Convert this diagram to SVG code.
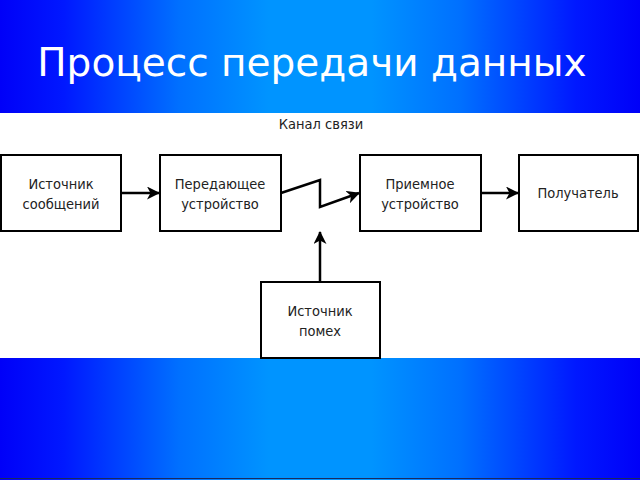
<svg xmlns="http://www.w3.org/2000/svg" width="640" height="480" viewBox="0 0 640 480">
<defs>
<linearGradient id="bg" x1="0" y1="0" x2="1" y2="0">
<stop offset="0" stop-color="#0000f8"/>
<stop offset="0.1" stop-color="#0018ff"/>
<stop offset="0.28" stop-color="#0070ff"/>
<stop offset="0.42" stop-color="#0094ff"/>
<stop offset="0.58" stop-color="#0094ff"/>
<stop offset="0.72" stop-color="#0070ff"/>
<stop offset="0.9" stop-color="#0018ff"/>
<stop offset="1" stop-color="#0000f8"/>
</linearGradient>
<marker id="ah" markerWidth="13" markerHeight="13" refX="12" refY="6.5" orient="auto" markerUnits="userSpaceOnUse">
<path d="M0,0 L13,6.5 L0,13 L3.5,6.5 Z" fill="#000"/>
</marker>
<style>
.box{fill:#fff;stroke:#000;stroke-width:2}
.lbl{font-family:"DejaVu Sans Condensed","DejaVu Sans",sans-serif;font-size:14.5px;fill:#222;text-anchor:middle}
.con{fill:none;stroke:#000;stroke-width:2.5}
</style>
</defs>
<rect x="0" y="0" width="640" height="480" fill="url(#bg)"/>
<rect x="0" y="113" width="640" height="245" fill="#fff"/>
<line x1="0" y1="478.5" x2="640" y2="478.5" stroke="#1a2a60" stroke-width="1"/>
<text x="312" y="76" font-family="DejaVu Sans, sans-serif" font-size="39" fill="#fff" text-anchor="middle">Процесс передачи данных</text>
<text x="321" y="129" class="lbl">Канал связи</text>
<g id="connectors">
<line class="con" x1="121" y1="193" x2="159" y2="193" marker-end="url(#ah)"/>
<polyline class="con" points="281,193 320,180 320,207 359,193" marker-end="url(#ah)"/>
<line class="con" x1="481" y1="193" x2="518" y2="193" marker-end="url(#ah)"/>
<line class="con" x1="320" y1="282" x2="320" y2="232" marker-end="url(#ah)"/>
</g>
<g id="n1"><rect class="box" x="1" y="155" width="120" height="76"/>
<text class="lbl" x="61" y="189">Источник</text><text class="lbl" x="61" y="209">сообщений</text></g>
<g id="n2"><rect class="box" x="160" y="155" width="121" height="76"/>
<text class="lbl" x="220" y="189">Передающее</text><text class="lbl" x="220" y="209">устройство</text></g>
<g id="n3"><rect class="box" x="360" y="155" width="121" height="76"/>
<text class="lbl" x="420" y="189">Приемное</text><text class="lbl" x="420" y="209">устройство</text></g>
<g id="n4"><rect class="box" x="519" y="155" width="119" height="76"/>
<text class="lbl" x="578" y="198">Получатель</text></g>
<g id="n5"><rect class="box" x="261" y="282" width="119" height="76"/>
<text class="lbl" x="320" y="316">Источник</text><text class="lbl" x="320" y="336">помех</text></g>
</svg>
